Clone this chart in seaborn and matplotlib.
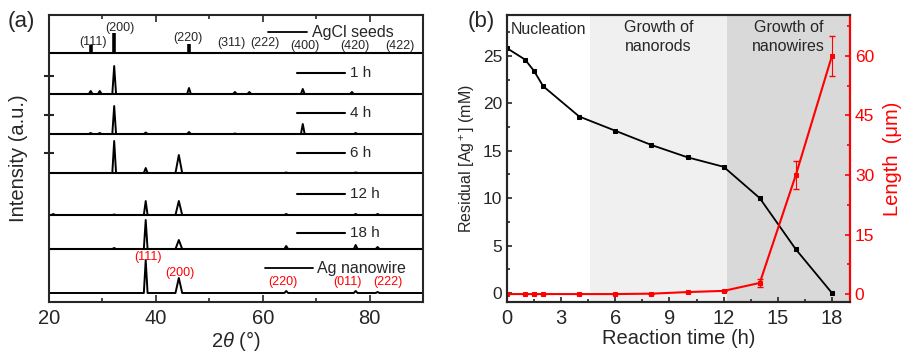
import numpy as np
import pandas as pd
import matplotlib.pyplot as plt
from matplotlib.ticker import MultipleLocator
import seaborn as sns

# ---- panel (a): XRD patterns (peak position, height in strip units)
agcl_pos = [27.8, 32.2, 46.2, 54.8, 57.5, 67.5, 76.7, 85.6]
agcl_int = [8, 20, 9, 1.5, 1.5, 1.5, 1.5, 1.5]
agcl_hkl = ["(111)", "(200)", "(220)", "(311)", "(222)", "(400)", "(420)", "(422)"]

pos_1h = [27.8, 29.5, 32.2, 46.2, 54.8, 57.5, 67.5, 76.7]
int_1h = [3, 3, 28, 6, 2, 2, 5, 2]
pos_4h = [27.8, 29.5, 32.2, 38.1, 46.2, 54.8, 67.5, 77.4]
int_4h = [1, 1, 28, 1.5, 2, 0.5, 10, 1]
pos_6h = [32.2, 38.1, 44.3, 64.4, 77.4]
int_6h = [32, 5, 18, 0.5, 0.5]
pos_12h = [20.8, 32.2, 38.1, 44.3, 64.4, 77.4, 81.5]
int_12h = [1, 0.5, 14, 14, 1, 1, 1]
pos_18h = [32.2, 38.1, 44.3, 64.4, 77.4, 81.5]
int_18h = [1, 29, 9, 3, 4, 2]
pos_ag = [38.1, 44.3, 64.4, 77.4, 81.5]
int_ag = [33, 15, 2, 2, 1]
ag_hkl = ["(111)", "(200)", "(220)", "(011)", "(222)"]

pattern_labels = ["1 h", "4 h", "6 h", "12 h", "18 h", "Ag nanowire"]

# ---- panel (b)
time_h = [0, 1, 1.5, 2, 4, 6, 8, 10, 12, 14, 16, 18]
residual_ag = [25.8, 24.6, 23.4, 21.8, 18.6, 17.1, 15.6, 14.3, 13.3, 10.0, 4.6, 0.0]
length_um = [0, 0, 0, 0, 0, 0, 0.1, 0.5, 0.8, 2.8, 30, 60]
length_err = [0, 0, 0, 0, 0, 0, 0, 0, 0, 1, 3.5, 5]


def pattern_df(pos, inten, hw=0.35):
    xs, ys = [20.0], [0.0]
    for p, h in sorted(zip(pos, inten)):
        w = hw * (1.8 if h < 20 and 44 < p < 45 else 1.0)
        xs += [p - w, p, p + w]
        ys += [0.0, h, 0.0]
    xs.append(90.0)
    ys.append(0.0)
    return pd.DataFrame({"two_theta": xs, "intensity": ys})


sns.set_style("ticks")
plt.rcParams["font.family"] = ["Liberation Sans", "DejaVu Sans"]
plt.rcParams["mathtext.fontset"] = "custom"
plt.rcParams["mathtext.rm"] = "Liberation Sans"
plt.rcParams["mathtext.it"] = "Liberation Sans:italic"

fig = plt.figure(figsize=(9.04, 3.54), dpi=100)
ax = fig.add_axes([49 / 904, 52 / 354, 374 / 904, 287 / 354])
axb = fig.add_axes([507 / 904, 52 / 354, 343 / 904, 287 / 354])

# strip baselines (layout, bottom to top)
baselines = [9, 53, 87, 129, 168, 208]
seps = [53, 87, 129, 168, 208, 249]
patterns = [(pos_ag, int_ag), (pos_18h, int_18h), (pos_12h, int_12h),
            (pos_6h, int_6h), (pos_4h, int_4h), (pos_1h, int_1h)]
for (pos, inten), base in zip(patterns, baselines):
    d = pattern_df(pos, inten)
    d["intensity"] += base
    sns.lineplot(data=d, x="two_theta", y="intensity", color="black",
                 lw=1.4, ax=ax, estimator=None, sort=False)
for s in seps:
    ax.axhline(s, color="black", lw=1.5)

ax.vlines(agcl_pos, 249, 249 + np.array(agcl_int), color="black", lw=2.6)
lab_xy = [(28.2, 260), (33.3, 274), (46.0, 264), (54.1, 259), (60.4, 259),
          (67.9, 256), (77.3, 256), (85.7, 256)]
for t, (x, y) in zip(agcl_hkl, lab_xy):
    ax.text(x, y, t, ha="center", va="center", fontsize=9)
red_xy = [(38.5, 45), (44.5, 29), (63.8, 20), (75.8, 20), (83.4, 20)]
for t, (x, y) in zip(ag_hkl, red_xy):
    ax.text(x, y, t, ha="center", va="center", fontsize=9, color="red")

# legend-like labels
ax.plot([61.0, 68.3], [270, 270], color="black", lw=1.3)
ax.text(69.2, 270, "AgCl seeds", va="center", fontsize=11.5)
leg_y = [229, 189, 149, 108, 69]
for t, y in zip(pattern_labels[:5], leg_y):
    ax.plot([66.4, 75.4], [y, y], color="black", lw=1.5)
    ax.text(76.3, y, t, va="center", fontsize=11)
ax.plot([60.4, 69.4], [34, 34], color="black", lw=1.3)
ax.text(70.2, 34, pattern_labels[5], va="center", fontsize=11.5)

ax.set_xlim(20, 90)
ax.set_ylim(0, 287)
ax.xaxis.set_major_locator(MultipleLocator(20))
ax.xaxis.set_minor_locator(MultipleLocator(10))
ax.set_yticks([149, 187, 226])
ax.set_yticklabels([])
ax.tick_params(axis="y", direction="inout", length=7, width=1.5)
ax.tick_params(axis="x", which="both", direction="in", top=True,
               labelsize=14.5, width=1.2, pad=5)
ax.tick_params(axis="x", which="major", length=5)
ax.tick_params(axis="x", which="minor", length=3)
ax.set_xlabel(r"2$\theta$ (°)", fontsize=14.5, labelpad=1)
ax.set_ylabel("Intensity (a.u.)", fontsize=14.5, labelpad=8)
for sp in ax.spines.values():
    sp.set_linewidth(1.5)

# ---- panel (b)
axb.axvspan(4.6, 12.2, color="#f0f0f0", lw=0, zorder=0)
axb.axvspan(12.2, 19, color="#d9d9d9", lw=0, zorder=0)
sns.lineplot(x=time_h, y=residual_ag, color="black", marker="s", markersize=3.5,
             markeredgecolor="black", lw=1.3, ax=axb)
axb.set_xlim(0, 19)
axb.set_ylim(-0.95, 29.3)
axb.xaxis.set_major_locator(MultipleLocator(3))
axb.xaxis.set_minor_locator(MultipleLocator(1.5))
axb.yaxis.set_major_locator(MultipleLocator(5))
axb.yaxis.set_minor_locator(MultipleLocator(2.5))
axb.tick_params(axis="both", which="both", direction="in", width=1.2)
axb.tick_params(axis="x", labelsize=14.5, pad=5)
axb.tick_params(axis="y", labelsize=12.5)
axb.set_xlabel("Reaction time (h)", fontsize=14.5, labelpad=1)
axb.set_ylabel(r"Residual [Ag$^+$] (mM)", fontsize=11.5, labelpad=4)

ax2 = axb.twinx()
sns.lineplot(x=time_h, y=length_um, color="red", marker="s", markersize=3.5,
             markeredgecolor="red", lw=1.5, ax=ax2)
ax2.errorbar(time_h, length_um, yerr=length_err, fmt="none", ecolor="red",
             elinewidth=0.8, capsize=2.5)
ax2.set_ylim(-2.0, 70.3)
ax2.yaxis.set_major_locator(MultipleLocator(15))
ax2.yaxis.set_minor_locator(MultipleLocator(7.5))
ax2.tick_params(axis="y", which="both", direction="in", colors="red",
                labelsize=12.5, width=1.2)
ax2.set_ylabel("Length  (μm)", color="red", fontsize=14.5, labelpad=6)
for sp in list(axb.spines.values()) + list(ax2.spines.values()):
    sp.set_linewidth(1.5)
ax2.spines["right"].set_color("red")

axb.text(0.2, 27.8, "Nucleation", ha="left", va="center", fontsize=11.5)
axb.text(8.4, 27.0, "Growth of\nnanorods", ha="center", va="center",
         fontsize=11.5, linespacing=1.3)
axb.text(15.6, 27.0, "Growth of\nnanowires", ha="center", va="center",
         fontsize=11.5, linespacing=1.3)

fig.text(8 / 904, 1 - 22 / 354, "(a)", fontsize=16, va="center")
fig.text(468 / 904, 1 - 22 / 354, "(b)", fontsize=16, va="center")

fig.savefig("out.png", dpi=100)
